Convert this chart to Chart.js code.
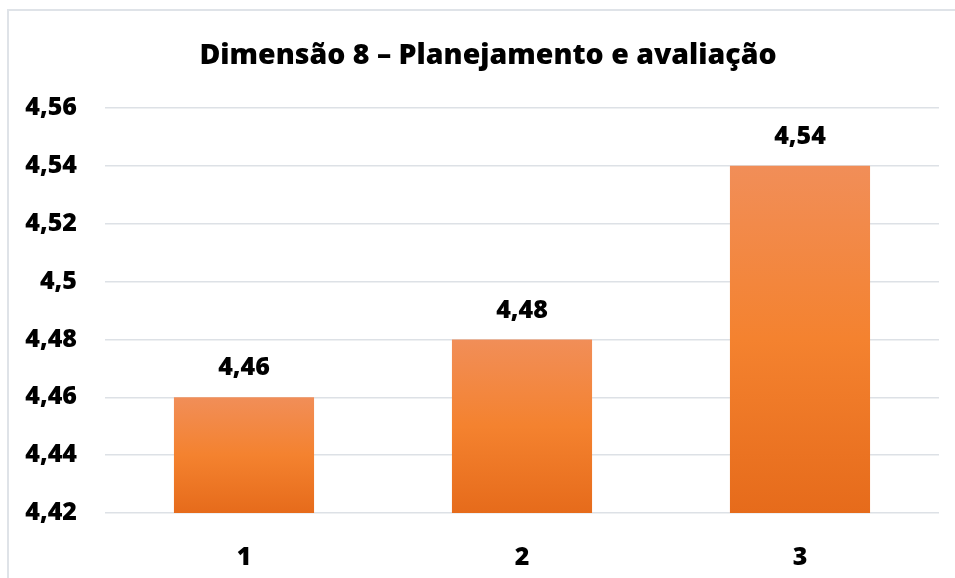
<!DOCTYPE html>
<html>
<head>
<meta charset="utf-8">
<script src="https://cdn.jsdelivr.net/npm/chart.js@4"></script>
<style>
  html, body { margin: 0; padding: 0; background: #ffffff; }
  #wrap { position: relative; width: 955px; height: 578px; overflow: hidden; }
  #frame { position: absolute; left: 7px; top: 9px; width: 1000px; height: 700px; border: 2px solid #dfe3e8; box-sizing: border-box; }
  canvas { position: absolute; left: 0; top: 0; }
</style>
</head>
<body>
<div id="wrap">
  <div id="frame"></div>
  <canvas id="c" width="955" height="578"></canvas>
</div>
<script>
const chartTitle = 'Dimensão 8 – Planejamento e avaliação';
const categories = ['1', '2', '3'];
const values = [4.46, 4.48, 4.54];
const yTicks = [4.42, 4.44, 4.46, 4.48, 4.5, 4.52, 4.54, 4.56];

const FONT = "'Open Sans', 'DejaVu Sans', sans-serif";
function fmt(v) { return String(parseFloat(Number(v).toFixed(2))).replace('.', ','); }

function barGradient(ctx) {
  const chart = ctx.chart;
  const area = chart.chartArea;
  if (!area || ctx.type !== 'data') return '#f07f2f';
  const yScale = chart.scales.y;
  const top = yScale.getPixelForValue(ctx.raw);
  const bottom = yScale.getPixelForValue(yScale.min);
  const g = chart.ctx.createLinearGradient(0, top, 0, bottom);
  g.addColorStop(0, '#f18e58');
  g.addColorStop(0.5, '#f4822f');
  g.addColorStop(1, '#e66b1b');
  return g;
}

const titleAndLabels = {
  id: 'titleAndLabels',
  afterDraw(chart) {
    const c = chart.ctx;
    c.save();
    c.fillStyle = '#000000';
    c.textAlign = 'center';
    c.textBaseline = 'middle';
    c.font = "800 28.5px " + FONT;
    c.fillText(chartTitle, 488, 56);
    c.font = "800 25px " + FONT;
    const meta = chart.getDatasetMeta(0);
    meta.data.forEach((el, i) => {
      c.fillText(fmt(values[i]), el.x, el.y - 29);
    });
    c.restore();
  }
};

new Chart(document.getElementById('c'), {
  type: 'bar',
  data: {
    labels: categories,
    datasets: [{
      data: values,
      backgroundColor: barGradient,
      borderWidth: 0,
      categoryPercentage: 1,
      barPercentage: 0.504
    }]
  },
  options: {
    responsive: false,
    animation: false,
    devicePixelRatio: 1,
    layout: { padding: { left: 0, right: 16, top: 108, bottom: 0 } },
    plugins: {
      legend: { display: false },
      tooltip: { enabled: false },
      title: { display: false }
    },
    scales: {
      x: {
        grid: { display: false },
        border: { display: false },
        ticks: { color: '#000000', font: { family: FONT, size: 25, weight: 800 }, padding: 22 },
        afterFit(s) { s.height = 65; }
      },
      y: {
        min: yTicks[0],
        max: yTicks[yTicks.length - 1],
        afterBuildTicks(s) { s.ticks = yTicks.map(v => ({ value: v })); },
        grid: { color: '#dde1e6', lineWidth: 1.5, drawTicks: false },
        border: { display: false },
        ticks: {
          color: '#000000',
          font: { family: FONT, size: 25, weight: 800 },
          padding: 28,
          callback: v => fmt(v)
        },
        afterFit(s) { s.width = 105; }
      }
    }
  },
  plugins: [titleAndLabels]
});
</script>
</body>
</html>
